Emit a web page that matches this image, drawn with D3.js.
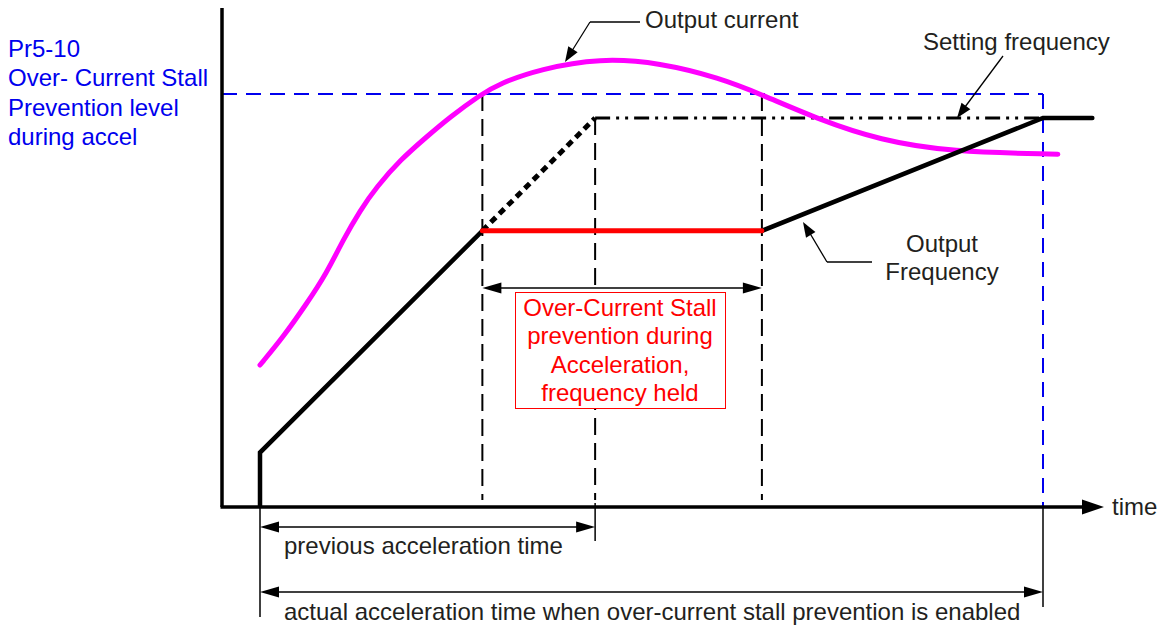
<!DOCTYPE html>
<html>
<head>
<meta charset="utf-8">
<script src="https://cdn.jsdelivr.net/npm/d3@7"></script>
<style>
  html, body { margin: 0; padding: 0; background: #fff; }
  svg { display: block; font-family: "Liberation Sans", Arial, sans-serif; }
</style>
</head>
<body>
<script>
// Time axis in % of the actual acceleration time; level axis in % of setting frequency.
const keyTimes = { start: 0, stallStart: 28.4, prevEnd: 42.8, stallEnd: 64.1, actualEnd: 100, tail: 106.3 };
const levels = { setting: 100, held: 71, startJump: 14, stallLevel: 106.2 };

// Output frequency path (time, level)
const freqRamp = [[0, 0], [0, 14], [28.4, 71]];
const freqHeld = [[28.4, 71], [64.1, 71]];
const freqResume = [[64.1, 71], [100, 100], [106.3, 100]];
const freqPrevious = [[28.4, 71], [42.8, 100]];
const settingLine = [[42.8, 100], [100, 100]];

// Output current curve (time, level)
const currentT = [0, 3.0, 6.0, 8.5, 10.6, 12.8, 14.9, 17.9, 21.3, 24.3, 28.1, 30.6, 35.8, 43.4, 51.1, 58.7, 64.1, 71.5, 79.2, 88.1, 101.9];
const currentV = [36.5, 43.8, 52.4, 60.1, 68.6, 76.3, 82.3, 89.2, 95.2, 100.3, 105.9, 108.9, 112.6, 115.4, 114.2, 110.3, 106.0, 99.5, 94.3, 91.3, 90.7];

const levelLabel = ["Pr5-10", "Over- Current Stall", "Prevention level", "during accel"];
const stallLabel = ["Over-Current Stall", "prevention during", "Acceleration,", "frequency held"];
const freqLabel = ["Output", "Frequency"];

const W = 1166, H = 630, FS = 24;
const svg = d3.select("body").append("svg").attr("width", W).attr("height", H);

const x = d3.scaleLinear().domain([0, 100]).range([260, 1043]);
const y = d3.scaleLinear().domain([0, 100]).range([507, 118]);

const axisT0 = x.invert(222), axisT1 = x.invert(1082), axisTop = y.invert(8);
const ink = "#000", textInk = "#231f20";

function arrowHead(g, tip, from, len, half, fill) {
  const dx = tip[0] - from[0], dy = tip[1] - from[1];
  const d = Math.hypot(dx, dy), ux = dx / d, uy = dy / d;
  const bx = tip[0] - ux * len, by = tip[1] - uy * len;
  g.append("polygon")
    .attr("points", [[tip[0], tip[1]], [bx - uy * half, by + ux * half], [bx + uy * half, by - ux * half]].map(p => p.join(",")).join(" "))
    .attr("fill", fill || ink);
}
function seg(g, p0, p1, attrs) {
  const l = g.append("line").attr("x1", p0[0]).attr("y1", p0[1]).attr("x2", p1[0]).attr("y2", p1[1]);
  Object.entries(attrs).forEach(([k, v]) => l.attr(k, v));
  return l;
}
const line = d3.line().x(d => x(d[0])).y(d => y(d[1]));

// Guide lines
const guides = svg.append("g");
[keyTimes.stallStart, keyTimes.stallEnd].forEach(t => {
  seg(guides, [x(t), y(levels.stallLevel)], [x(t), 500], { stroke: ink, "stroke-width": 2, "stroke-dasharray": "17,8" });
});
seg(guides, [x(keyTimes.prevEnd), y(levels.setting)], [x(keyTimes.prevEnd), 500], { stroke: ink, "stroke-width": 2, "stroke-dasharray": "17,8" });

// Stall level and actual end (blue dashed)
seg(guides, [x(axisT0), y(levels.stallLevel)], [x(keyTimes.actualEnd), y(levels.stallLevel)], { stroke: "#0000ee", "stroke-width": 2, "stroke-dasharray": "15,9" });
seg(guides, [x(keyTimes.actualEnd), y(levels.stallLevel)], [x(keyTimes.actualEnd), y(0)], { stroke: "#0000ee", "stroke-width": 2, "stroke-dasharray": "15,9" });

// Setting frequency (dash-dot-dot)
svg.append("path").attr("d", line(settingLine)).attr("fill", "none").attr("stroke", ink)
  .attr("stroke-width", 3).attr("stroke-dasharray", "15,6,3,6,3,6");

// Previous ramp (dotted)
svg.append("path").attr("d", line(freqPrevious)).attr("fill", "none").attr("stroke", ink)
  .attr("stroke-width", 5).attr("stroke-dasharray", "7,5");

// Output current
svg.append("path")
  .attr("d", d3.line().curve(d3.curveBasis).x(d => x(d[0])).y(d => y(d[1]))(currentT.map((t, i) => [t, currentV[i]])))
  .attr("fill", "none").attr("stroke", "#ff00ff").attr("stroke-width", 5).attr("stroke-linecap", "round");

// Output frequency
svg.append("path").attr("d", line(freqRamp)).attr("fill", "none").attr("stroke", ink).attr("stroke-width", 4.5).attr("stroke-linejoin", "miter");
svg.append("path").attr("d", line(freqResume)).attr("fill", "none").attr("stroke", ink).attr("stroke-width", 4.5).attr("stroke-linecap", "round");
svg.append("path").attr("d", line(freqHeld)).attr("fill", "none").attr("stroke", "#ff0000").attr("stroke-width", 5).attr("stroke-linecap", "round");

// Axes
const axes = svg.append("g");
seg(axes, [x(axisT0), y(axisTop)], [x(axisT0), y(0)], { stroke: ink, "stroke-width": 3.5 });
seg(axes, [x(axisT0) - 1.5, y(0)], [x(axisT1), y(0)], { stroke: ink, "stroke-width": 3.5 });
arrowHead(axes, [x(axisT1) + 22, y(0)], [x(axisT1), y(0)], 22, 7.5);
axes.append("text").attr("x", 1112).attr("y", 515).attr("font-size", FS).attr("fill", textInk).text("time");

// Dimension lines
const dims = svg.append("g");
seg(dims, [x(0), y(0)], [x(0), 617], { stroke: ink, "stroke-width": 1.5 });
seg(dims, [x(keyTimes.prevEnd), y(0) - 4], [x(keyTimes.prevEnd), 541], { stroke: ink, "stroke-width": 1.5 });
seg(dims, [x(keyTimes.actualEnd), y(0)], [x(keyTimes.actualEnd), 607], { stroke: ink, "stroke-width": 1.5 });
function dimension(t0, t1, yy) {
  seg(dims, [x(t0) + 10, yy], [x(t1) - 10, yy], { stroke: ink, "stroke-width": 1.5 });
  arrowHead(dims, [x(t0), yy], [x(t1), yy], 19, 5.5);
  arrowHead(dims, [x(t1), yy], [x(t0), yy], 19, 5.5);
}
dimension(keyTimes.start, keyTimes.prevEnd, 527);
dimension(keyTimes.start, keyTimes.actualEnd, 592);
dimension(keyTimes.stallStart, keyTimes.stallEnd, 288);
dims.append("text").attr("x", 284).attr("y", 554).attr("font-size", FS).attr("fill", textInk).text("previous acceleration time");
dims.append("text").attr("x", 284).attr("y", 620).attr("font-size", FS).attr("fill", textInk).text("actual acceleration time when over-current stall prevention is enabled");

// Stall note box
const box = svg.append("g");
box.append("rect").attr("x", 515.5).attr("y", 292.5).attr("width", 210).attr("height", 116)
  .attr("fill", "#fff").attr("stroke", "#ff0000").attr("stroke-width", 1);
box.selectAll("text").data(stallLabel).join("text")
  .attr("x", 620).attr("y", (d, i) => 316 + i * 28.4).attr("text-anchor", "middle")
  .attr("font-size", FS).attr("fill", "#ff0000").text(d => d);

// Stall level label
svg.append("g").selectAll("text").data(levelLabel).join("text")
  .attr("x", 8).attr("y", (d, i) => 57 + i * 29.3).attr("font-size", FS).attr("fill", "#0000ee").text(d => d);

// Callouts
const notes = svg.append("g");
// Output current
seg(notes, [640, 22], [590, 22], { stroke: ink, "stroke-width": 1.3 });
seg(notes, [590, 22], [570, 54], { stroke: ink, "stroke-width": 1.3 });
arrowHead(notes, [565, 62], [590, 22], 15, 5.5);
notes.append("text").attr("x", 645).attr("y", 28).attr("font-size", FS).attr("fill", textInk).text("Output current");
// Setting frequency
seg(notes, [1003, 56], [962, 111], { stroke: ink, "stroke-width": 1.3 });
arrowHead(notes, [957, 118], [1003, 56], 15, 5.5);
notes.append("text").attr("x", 923).attr("y", 50).attr("font-size", FS).attr("fill", textInk).text("Setting frequency");
// Output frequency
seg(notes, [872, 262], [827, 262], { stroke: ink, "stroke-width": 1.3 });
seg(notes, [827, 262], [808, 230], { stroke: ink, "stroke-width": 1.3 });
arrowHead(notes, [803, 222], [827, 262], 15, 5.5);
notes.selectAll("text.f").data(freqLabel).join("text").attr("class", "f")
  .attr("x", 942).attr("y", (d, i) => 252 + i * 28).attr("text-anchor", "middle")
  .attr("font-size", FS).attr("fill", textInk).text(d => d);
</script>
</body>
</html>
